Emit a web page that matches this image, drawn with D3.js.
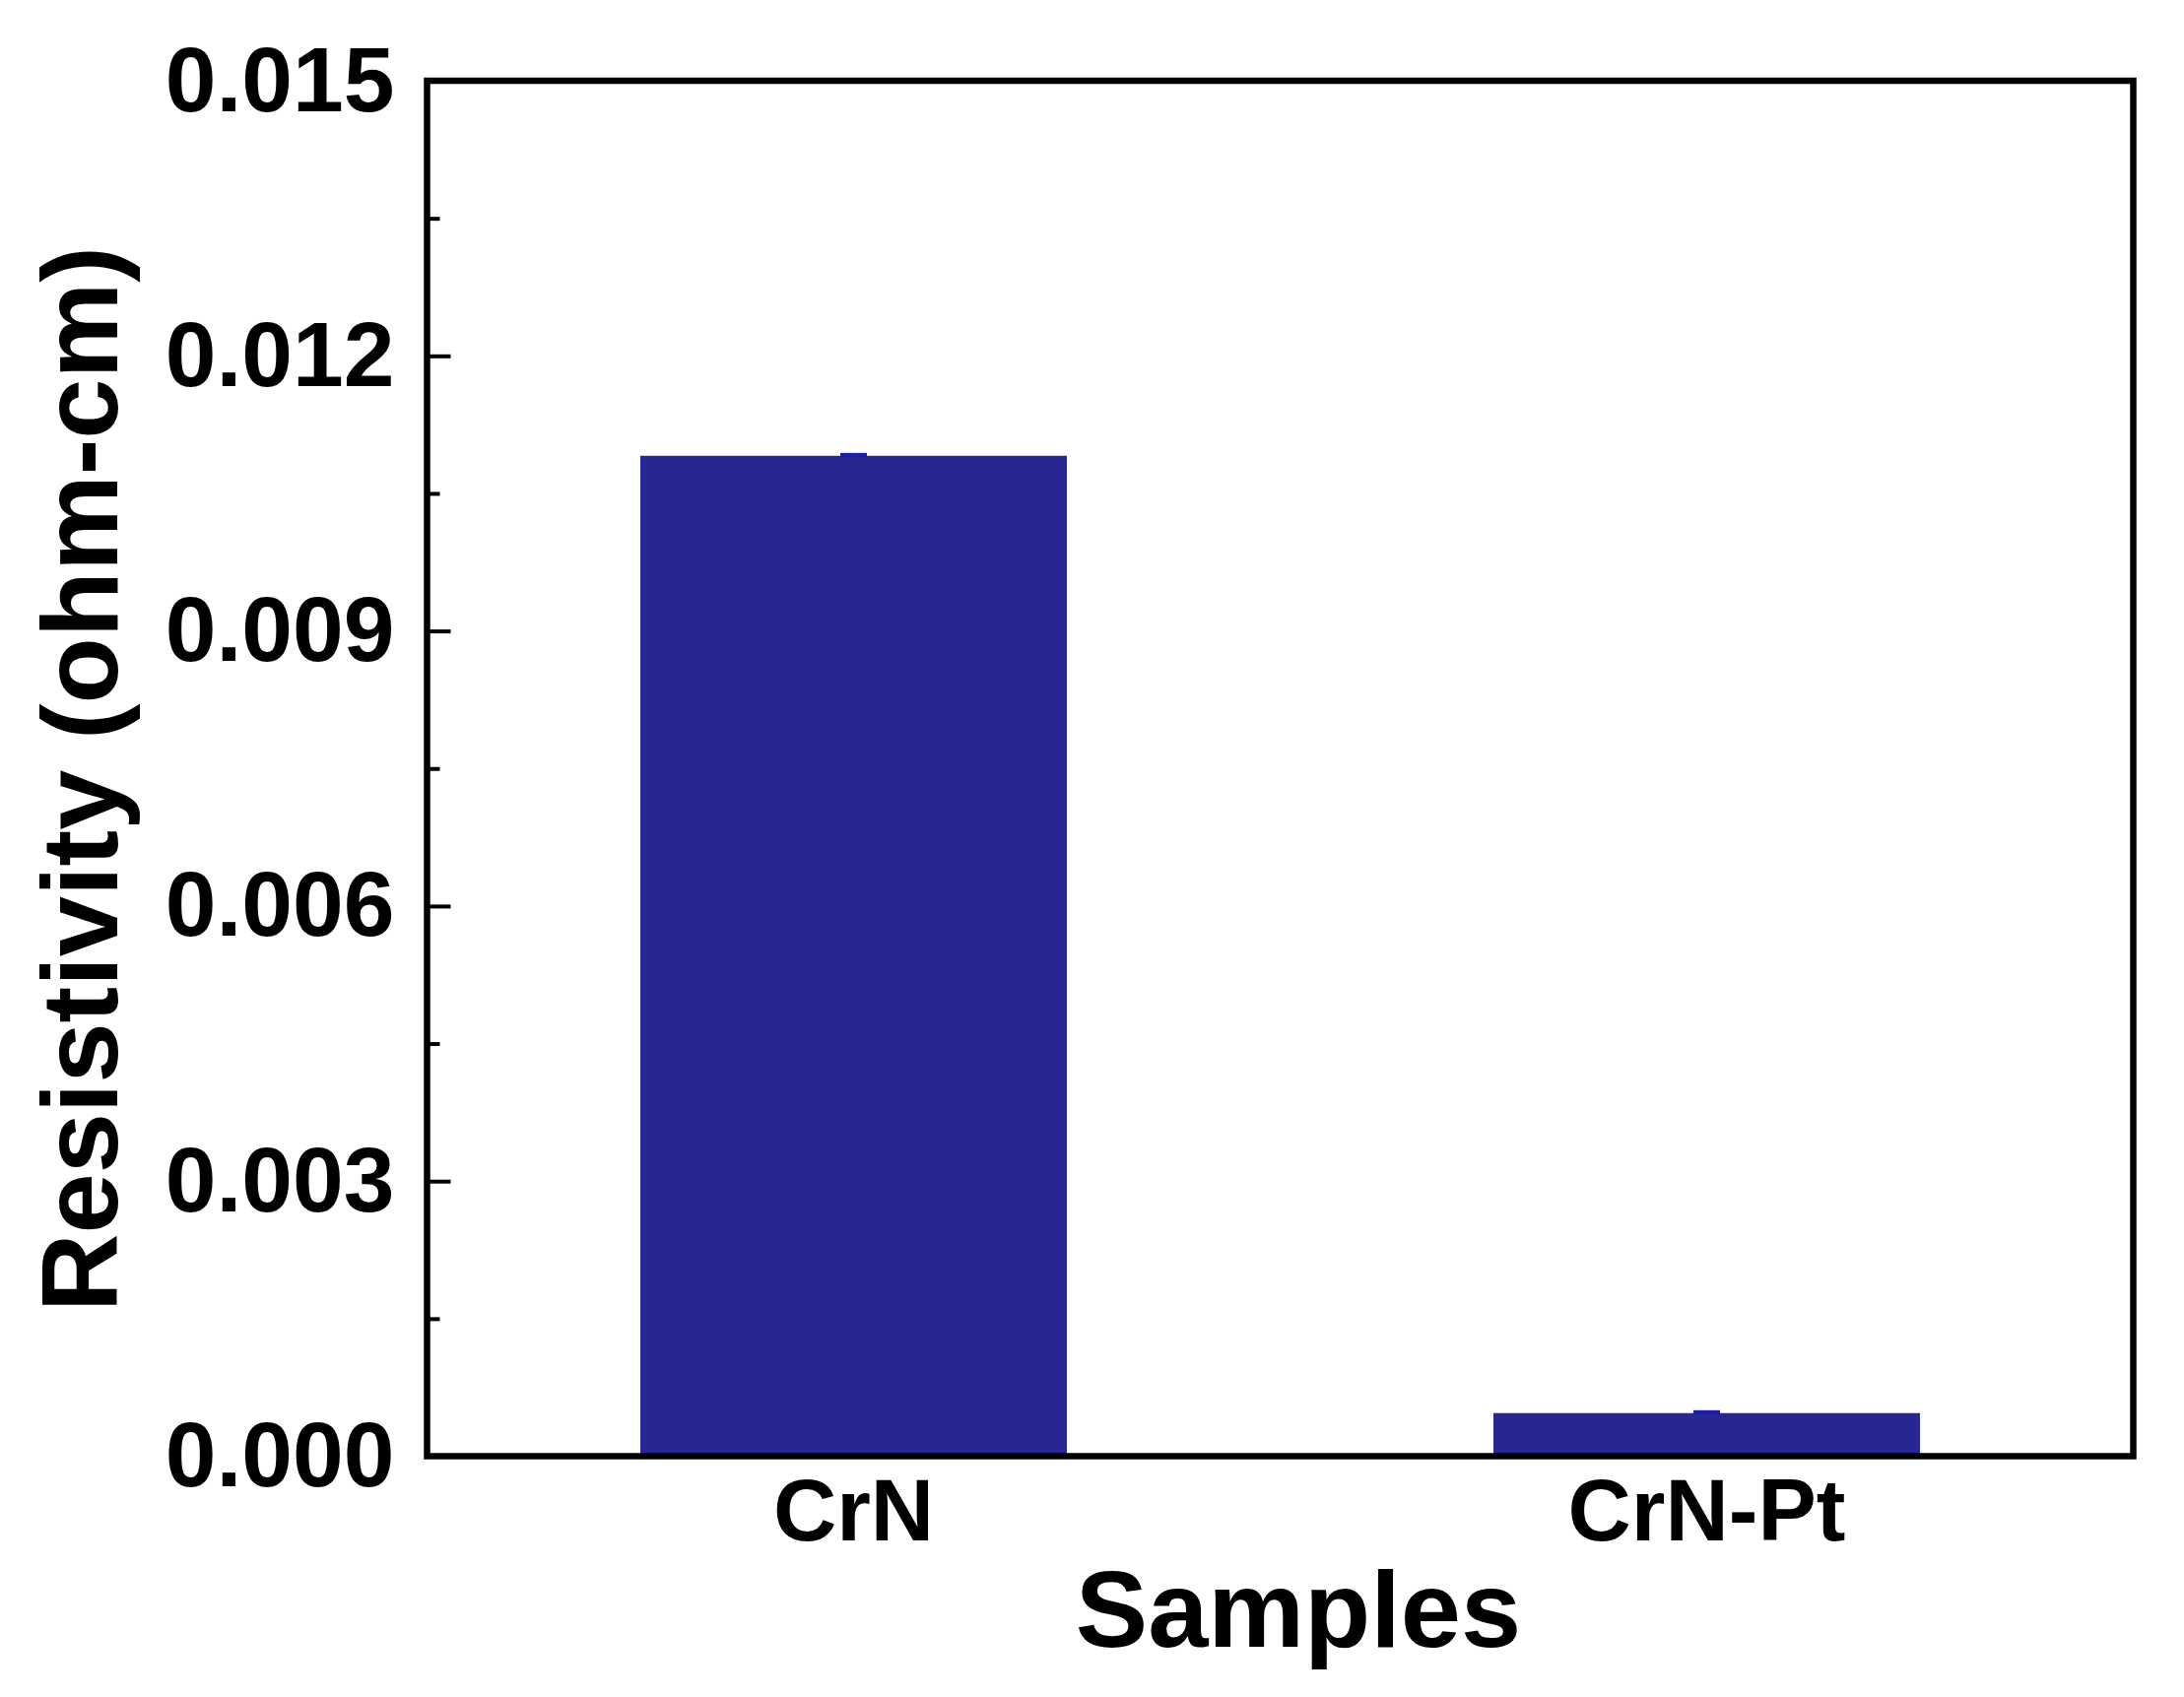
<!DOCTYPE html>
<html><head><meta charset="utf-8">
<script src="https://cdn.jsdelivr.net/npm/d3@7"></script>
<style>body{margin:0;background:#fff}svg{display:block}text{font-family:"Liberation Sans",Arial,sans-serif;font-weight:bold;fill:#000}</style>
</head><body>
<script>
const categories = ["CrN", "CrN-Pt"];
const values = [0.01091, 0.00047];
const errors = [0.00001, 0.00001];
const yTicks = [0, 0.003, 0.006, 0.009, 0.012, 0.015];
const yMinorTicks = [0.0015, 0.0045, 0.0075, 0.0105, 0.0135];
const xTitle = "Samples";
const yTitle = "Resistivity (ohm-cm)";

const W = 2217, H = 1723;
const m = {left: 433.5, right: 2165.5, top: 82, bottom: 1478.5};
const svg = d3.select("body").append("svg").attr("width", W).attr("height", H);

const x = d3.scaleBand().domain(categories).range([m.left, m.right]).paddingInner(0.5).paddingOuter(0.25);
const y = d3.scaleLinear().domain([0, 0.015]).range([m.bottom, m.top]);

// bars
svg.selectAll("rect.bar").data(categories).join("rect")
  .attr("class", "bar")
  .attr("x", d => x(d))
  .attr("width", x.bandwidth())
  .attr("y", (d, i) => y(values[i]))
  .attr("height", (d, i) => y(0) - y(values[i]))
  .attr("fill", "#272793");

// error bars
const cap = 27;
svg.selectAll("g.err").data(categories).join("g").attr("class", "err").each(function(d, i) {
  const g = d3.select(this), cx = x(d) + x.bandwidth() / 2;
  g.append("line").attr("x1", cx).attr("x2", cx).attr("y1", y(values[i] - errors[i])).attr("y2", y(values[i] + errors[i])).attr("stroke", "#1c1ca8").attr("stroke-width", 3);
  g.append("line").attr("x1", cx - cap / 2).attr("x2", cx + cap / 2).attr("y1", y(values[i] + errors[i])).attr("y2", y(values[i] + errors[i])).attr("stroke", "#1c1ca8").attr("stroke-width", 4);
});

// left axis
const yAxis = d3.axisLeft(y).tickValues(yTicks).tickSize(-24).tickPadding(0).tickFormat(d3.format(".3f"));
const gy = svg.append("g").attr("transform", `translate(${m.left},0)`).call(yAxis);
gy.select(".domain").remove();
gy.selectAll(".tick line").attr("stroke", "#000").attr("stroke-width", 4);
gy.selectAll(".tick text").attr("x", -33).attr("dy", null).attr("y", 30)
  .attr("font-size", 93).attr("text-anchor", "end").style("font-family", '"Liberation Sans",Arial,sans-serif').style("font-weight", "bold");

const gym = svg.append("g").attr("transform", `translate(${m.left},0)`)
  .call(d3.axisLeft(y).tickValues(yMinorTicks).tickSize(-13).tickFormat(""));
gym.select(".domain").remove();
gym.selectAll(".tick line").attr("stroke", "#000").attr("stroke-width", 4);

// bottom axis labels
const xAxis = d3.axisBottom(x).tickSize(0).tickPadding(0);
const gx = svg.append("g").attr("transform", `translate(0,${m.bottom})`).call(xAxis);
gx.select(".domain").remove();
gx.selectAll(".tick text").attr("dy", null).attr("y", 85)
  .attr("font-size", 89).style("font-family", '"Liberation Sans",Arial,sans-serif').style("font-weight", "bold");

// frame
svg.append("rect").attr("x", m.left).attr("y", m.top).attr("width", m.right - m.left).attr("height", m.bottom - m.top)
  .attr("fill", "none").attr("stroke", "#000").attr("stroke-width", 6.5);

// titles
svg.append("text").attr("x", 1318).attr("y", 1672).attr("text-anchor", "middle").attr("font-size", 110).text(xTitle);
svg.append("text").attr("transform", "translate(119,791) rotate(-90)").attr("text-anchor", "middle").attr("font-size", 110).text(yTitle);
</script>
</body></html>
